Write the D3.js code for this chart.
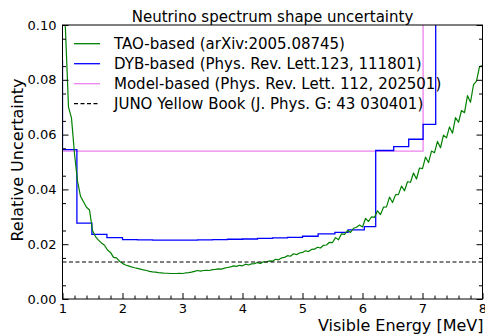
<!DOCTYPE html>
<html><head><meta charset="utf-8">
<script src="https://cdn.jsdelivr.net/npm/d3@7"></script>
<style>body{margin:0;background:#fff}svg{display:block;font-family:"DejaVu Sans",sans-serif}</style>
</head><body><svg id="c" width="485" height="336"></svg>
<script>
// ---- data ----
const taoE = d3.range(0, 141).map(i => +(1 + i * 0.05).toFixed(2));
const taoVals = [
0.118,0.098,0.070,0.066,0.053,0.043,0.0375,0.0355,0.0335,0.0325,
0.0250,0.0228,0.0215,0.0204,0.0196,0.0179,0.0170,0.0152,0.0150,0.0138,
0.0130,0.0124,0.0121,0.0117,0.0114,0.0112,0.0109,0.0106,0.0104,0.0101,
0.0099,0.0098,0.0096,0.0095,0.0094,0.0094,0.0093,0.0093,0.0093,0.0094,
0.0093,0.0095,0.0096,0.0098,0.0101,0.0104,0.0102,0.0104,0.0105,0.0104,
0.0107,0.0108,0.0110,0.0109,0.0113,0.0115,0.0117,0.0121,0.0119,0.0123,
0.0121,0.0127,0.0124,0.0128,0.0129,0.0133,0.0130,0.0136,0.0135,0.0139,
0.0138,0.0145,0.0143,0.0150,0.0152,0.0158,0.0156,0.0165,0.0162,0.0168,
0.0170,0.0176,0.0173,0.0181,0.0182,0.0189,0.0186,0.0196,0.0197,0.0207,
0.0206,0.0224,0.0216,0.0238,0.0236,0.0250,0.0243,0.0258,0.0262,0.0270,
0.0263,0.0294,0.0283,0.0300,0.0298,0.0322,0.0308,0.0335,0.0336,0.0372,
0.0352,0.0380,0.0382,0.0412,0.0395,0.0428,0.0426,0.0460,0.0438,0.0478,
0.0476,0.0518,0.0498,0.0540,0.0534,0.0575,0.0552,0.0598,0.0588,0.0628,
0.0605,0.0662,0.0645,0.0688,0.0680,0.0742,0.0718,0.0782,0.0795,0.0848,
0.0852];
const dybEdges = [1.0,1.0,1.24,1.49,1.74,2.0,2.25,2.5,2.75,3.0,3.25,3.5,3.75,4.0,4.25,4.5,4.75,5.0,5.26,5.54,5.76,6.03,6.22,6.52,6.77,7.01,7.22,8.0];
const dybVals  = [0.087,0.0545,0.0277,0.0236,0.0224,0.0217,0.0216,0.0215,0.0215,0.0215,0.0216,0.0217,0.0218,0.0219,0.0221,0.0223,0.0225,0.0229,0.0238,0.0243,0.0252,0.0264,0.0542,0.0556,0.0583,0.0637,0.15,0.15];
const modelEdges = [1.0,7.01,8.0];
const modelVals  = [0.054,0.15,0.15];
const yellowBook = 0.0135;
const xTicks = [1,2,3,4,5,6,7,8];
const yTicks = [0.00,0.02,0.04,0.06,0.08,0.10];
const legendLabels = ["TAO-based (arXiv:2005.08745)","DYB-based (Phys. Rev. Lett.123, 111801)","Model-based (Phys. Rev. Lett. 112, 202501)","JUNO Yellow Book (J. Phys. G: 43 030401)"];

// ---- layout ----
const svg = d3.select("#c");
const L=62.5,R=482.5,T=25,B=299;
const x = d3.scaleLinear().domain([1,8]).range([L,R]);
const y = d3.scaleLinear().domain([0,0.1]).range([B,T]);

svg.append("defs").append("clipPath").attr("id","clip").append("rect")
  .attr("x",L).attr("y",T).attr("width",R-L).attr("height",B-T);
const g = svg.append("g").attr("clip-path","url(#clip)");

const stepLine = d3.line().x(d=>x(d[0])).y(d=>y(d[1])).curve(d3.curveStepAfter);
const plainLine = d3.line().x(d=>x(d[0])).y(d=>y(d[1]));

g.append("path").datum(modelEdges.map((e,i)=>[e,modelVals[i]]))
  .attr("d",stepLine).attr("fill","none").attr("stroke","#ee82ee").attr("stroke-width",1.3);
g.append("path").datum(dybEdges.map((e,i)=>[e,dybVals[i]]))
  .attr("d",stepLine).attr("fill","none").attr("stroke","#0000ff").attr("stroke-width",1.3);
g.append("path").datum(taoE.map((e,i)=>[e,taoVals[i]]))
  .attr("d",plainLine).attr("fill","none").attr("stroke","#008000").attr("stroke-width",1.2).attr("stroke-linejoin","round");
g.append("line").attr("x1",x(1)).attr("x2",x(8)).attr("y1",y(yellowBook)).attr("y2",y(yellowBook))
  .attr("stroke","#000").attr("stroke-width",1.1).attr("stroke-dasharray","4,2.5");

// ---- axes ----
const fs = "13px";
const xAx = svg.append("g").attr("transform",`translate(0,${B})`)
  .call(d3.axisBottom(x).tickValues(xTicks).tickSize(-6).tickPadding(5).tickFormat(d3.format("d")));
const xMinor = svg.append("g").attr("transform",`translate(0,${B})`)
  .call(d3.axisBottom(x).tickValues(d3.range(1,8.001,0.2).filter(v=>Math.abs(v-Math.round(v))>1e-6)).tickSize(-3.5).tickFormat(""));
const yAx = svg.append("g").attr("transform",`translate(${L},0)`)
  .call(d3.axisLeft(y).tickValues(yTicks).tickSize(-6).tickPadding(6).tickFormat(d3.format(".2f")));
const yMinor = svg.append("g").attr("transform",`translate(${L},0)`)
  .call(d3.axisLeft(y).tickValues(d3.range(0.005,0.1,0.01)).tickSize(-3.5).tickFormat(""));
const yR = svg.append("g").attr("transform",`translate(${R},0)`)
  .call(d3.axisRight(y).tickValues(yTicks).tickSize(-6).tickFormat(""));
const yRm = svg.append("g").attr("transform",`translate(${R},0)`)
  .call(d3.axisRight(y).tickValues(d3.range(0.005,0.1,0.01)).tickSize(-3.5).tickFormat(""));
[xAx,xMinor,yAx,yMinor,yR,yRm].forEach(a=>{
  a.select(".domain").remove();
  a.selectAll(".tick line").attr("stroke","#000").attr("stroke-width",1);
  a.selectAll("text").attr("font-family","DejaVu Sans").attr("font-size",fs).attr("fill","#000");
});
svg.append("rect").attr("x",L).attr("y",T).attr("width",R-L).attr("height",B-T)
  .attr("fill","none").attr("stroke","#000").attr("stroke-width",1);

// ---- text ----
svg.append("text").attr("x",(L+R)/2).attr("y",21.5).attr("text-anchor","middle")
  .attr("font-size","15px").text("Neutrino spectrum shape uncertainty");
svg.append("text").attr("transform",`translate(22.5,${(T+B)/2-2}) rotate(-90)`).attr("text-anchor","middle")
  .attr("font-size","16px").text("Relative Uncertainty");
svg.append("text").attr("x",R+1).attr("y",330.5).attr("text-anchor","end")
  .attr("font-size","16px").text("Visible Energy [MeV]");

// ---- legend ----
const legColors = ["#008000","#0000ff","#ee82ee","#000"];
const leg = svg.append("g");
legendLabels.forEach((t,i)=>{
  const yy = 43.7 + i*20;
  leg.append("line").attr("x1",74).attr("x2",100).attr("y1",yy).attr("y2",yy)
    .attr("stroke",legColors[i]).attr("stroke-width",1.3).attr("stroke-dasharray",i===3?"4,2.5":null);
  leg.append("text").attr("x",114).attr("y",yy+4.8).attr("font-size","15px").text(t);
});
</script></body></html>
